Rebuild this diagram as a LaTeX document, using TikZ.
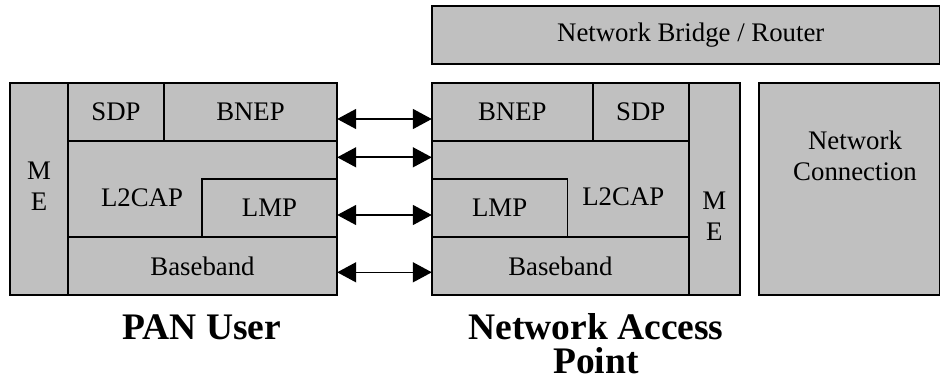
\documentclass[tikz,border=0pt]{standalone}
\usepackage{fontspec}
\setmainfont{Liberation Serif}
\usetikzlibrary{arrows.meta,fit}
\definecolor{boxgray}{HTML}{C0C0C0}
\tikzset{
  box/.style={draw=black, fill=boxgray, line width=1.6pt, inner sep=0pt},
  txt/.style={inner sep=0pt, align=center, font=\fontsize{26.8}{31}\selectfont},
  bigtxt/.style={inner sep=0pt, align=center, font=\fontsize{37.5}{34}\selectfont\bfseries},
  arr/.style={line width=1.6pt, {Triangle[length=19pt,width=20pt]}-{Triangle[length=19pt,width=20pt]}}
}
\newcommand\boxnode[6]{%
  \path (#2,#3) coordinate (#1-nw) (#4,#5) coordinate (#1-se);
  \node[box, fit=(#1-nw)(#1-se)] (#1) {};
  \node[txt] (#1-t) at (#1.center) {#6};}
\begin{document}
\begin{tikzpicture}[x=1pt,y=-1pt]
\useasboundingbox (0,0) rectangle (941,390);
% outline helpers for the two stacks
\path (10,83) coordinate (panL-nw) (337,295) coordinate (panL-se);
\node[inner sep=0pt, fit=(panL-nw)(panL-se)] (panL) {};
\path (432,83) coordinate (napR-nw) (740,295) coordinate (napR-se);
\node[inner sep=0pt, fit=(napR-nw)(napR-se)] (napR) {};
% bridge
\boxnode{bridge}{432}{6}{939.5}{64}{\hspace*{10pt}Network Bridge / Router}
% PAN user stack
\boxnode{meL}{10}{83}{68}{295}{}
\boxnode{sdpL}{68}{83}{164}{141}{SDP}
\boxnode{bnepL}{164}{83}{337}{141}{BNEP}
\boxnode{l2capL}{68}{141}{337}{237}{}
\boxnode{lmpL}{202}{179}{337}{237}{LMP}
\boxnode{bbL}{68}{237}{337}{295}{Baseband}
\node[txt] (meLt) at (39,186.5) {M\\E};
\node[txt, anchor=base] (l2capLt) at (142,206) {L2CAP};
% NAP stack
\boxnode{bnepR}{432}{83}{592.7}{141}{BNEP}
\boxnode{sdpR}{592.7}{83}{688.7}{141}{SDP}
\boxnode{l2capR}{432}{141}{688.7}{237}{}
\boxnode{lmpR}{432}{179}{567.3}{237}{LMP}
\boxnode{bbR}{432}{237}{688.7}{295}{Baseband}
\boxnode{meR}{688.7}{83}{740}{295}{}
\node[txt] (meRt) at (714.3,216.7) {M\\E};
\node[txt, anchor=base] (l2capRt) at (623.3,205.7) {L2CAP};
% network connection
\boxnode{netc}{759}{83}{939.5}{295}{}
\node[txt] (netct) at (855,155.5) {Network\\Connection};
% arrows
\draw[arr] (panL.east |- 0,119) -- (napR.west |- 0,119);
\draw[arr] (panL.east |- 0,157.3) -- (napR.west |- 0,157.3);
\draw[arr] (panL.east |- 0,215) -- (napR.west |- 0,215);
\draw[arr] (panL.east |- 0,272.3) -- (napR.west |- 0,272.3);
% captions
\node[bigtxt, anchor=base] (panlbl) at (202,339) {PAN User};
\node[bigtxt, anchor=base] (naplbl1) at (596,339) {Network Access};
\node[bigtxt, anchor=base] (naplbl2) at (596,373) {Point};
\end{tikzpicture}
\end{document}
